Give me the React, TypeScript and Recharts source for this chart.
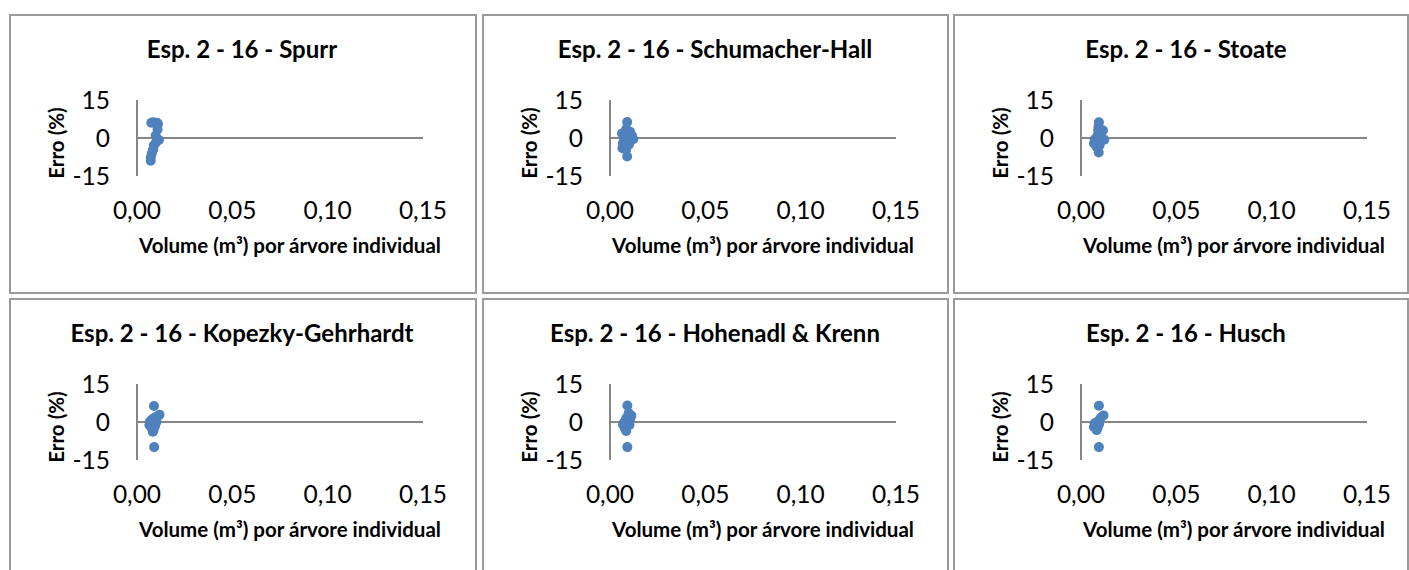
import React from 'react';
import { ScatterChart, Scatter, XAxis, YAxis, ZAxis, ReferenceLine } from 'recharts';

const xTicks = [0, 0.05, 0.1, 0.15];
const yTicks = [-15, 0, 15];

const titles = [
  'Esp. 2 - 16 - Spurr',
  'Esp. 2 - 16 - Schumacher-Hall',
  'Esp. 2 - 16 - Stoate',
  'Esp. 2 - 16 - Kopezky-Gehrhardt',
  'Esp. 2 - 16 - Hohenadl & Krenn',
  'Esp. 2 - 16 - Husch',
];

const spurr = [
  { x: 0.0075, y: 6.0 }, { x: 0.0085, y: 6.2 }, { x: 0.0095, y: 5.8 }, { x: 0.0105, y: 6.0 },
  { x: 0.011, y: 5.5 }, { x: 0.0108, y: 3.4 }, { x: 0.0098, y: 1.0 }, { x: 0.0105, y: -0.5 },
  { x: 0.0115, y: -0.8 }, { x: 0.0098, y: -2.0 }, { x: 0.0088, y: -3.0 }, { x: 0.0085, y: -4.5 },
  { x: 0.0078, y: -6.0 }, { x: 0.0072, y: -7.8 }, { x: 0.0072, y: -9.0 },
];

const schumacherHall = [
  { x: 0.009, y: 6.3 }, { x: 0.0085, y: 3.5 }, { x: 0.0105, y: 2.5 }, { x: 0.0063, y: 1.8 },
  { x: 0.0115, y: 1.0 }, { x: 0.0095, y: 0.5 }, { x: 0.0075, y: 0.0 }, { x: 0.0122, y: -0.5 },
  { x: 0.0088, y: -1.0 }, { x: 0.0068, y: -2.0 }, { x: 0.01, y: -2.5 }, { x: 0.0065, y: -4.0 },
  { x: 0.0085, y: -4.5 }, { x: 0.009, y: -7.3 },
];

const stoate = [
  { x: 0.0094, y: 6.2 }, { x: 0.0092, y: 4.5 }, { x: 0.009, y: 3.2 }, { x: 0.0115, y: 3.0 },
  { x: 0.0088, y: 1.2 }, { x: 0.0105, y: 0.8 }, { x: 0.0072, y: -0.5 }, { x: 0.0122, y: -0.7 },
  { x: 0.0085, y: -1.5 }, { x: 0.0068, y: -2.2 }, { x: 0.0098, y: -2.8 }, { x: 0.0082, y: -3.5 },
  { x: 0.0093, y: -5.7 },
];

const kopezky = [
  { x: 0.0089, y: 6.3 }, { x: 0.0118, y: 2.9 }, { x: 0.0108, y: 2.2 }, { x: 0.0093, y: 1.8 },
  { x: 0.0078, y: 1.0 }, { x: 0.0068, y: 0.2 }, { x: 0.0102, y: 0.0 }, { x: 0.0085, y: -0.5 },
  { x: 0.0065, y: -1.2 }, { x: 0.0095, y: -1.5 }, { x: 0.0075, y: -2.2 }, { x: 0.0088, y: -3.0 },
  { x: 0.0083, y: -3.8 }, { x: 0.009, y: -9.9 },
];

const hohenadl = [
  { x: 0.0091, y: 6.5 }, { x: 0.0098, y: 3.5 }, { x: 0.0112, y: 2.5 }, { x: 0.0085, y: 1.5 },
  { x: 0.0105, y: 1.0 }, { x: 0.0075, y: 0.0 }, { x: 0.0095, y: -0.3 }, { x: 0.0068, y: -1.0 },
  { x: 0.0088, y: -1.8 }, { x: 0.0102, y: -1.2 }, { x: 0.0078, y: -2.5 }, { x: 0.0085, y: -3.5 },
  { x: 0.0091, y: -9.9 },
];

const husch = [
  { x: 0.0094, y: 6.4 }, { x: 0.0118, y: 2.6 }, { x: 0.0105, y: 1.8 }, { x: 0.0098, y: 1.0 },
  { x: 0.0085, y: 0.0 }, { x: 0.0072, y: -0.5 }, { x: 0.0095, y: -0.8 }, { x: 0.0078, y: -1.5 },
  { x: 0.0088, y: -2.2 }, { x: 0.0068, y: -2.0 }, { x: 0.0082, y: -3.2 }, { x: 0.0094, y: -9.9 },
];

const seriesList = [spurr, schumacherHall, stoate, kopezky, hohenadl, husch];

const xLabel = 'Volume (m³) por árvore individual';
const yLabel = 'Erro (%)';

const FONT = 'Lato, "Open Sans", sans-serif';
const AXIS = '#868686';
const DOT = '#4F81BD';

const panelBoxes = [
  { left: 9, top: 14, width: 468, height: 280 },
  { left: 482, top: 14, width: 467, height: 280 },
  { left: 953, top: 14, width: 456, height: 280 },
  { left: 9, top: 298, width: 468, height: 290 },
  { left: 482, top: 298, width: 467, height: 290 },
  { left: 953, top: 298, width: 456, height: 290 },
];

const PLOT_L = 128;
const PLOT_T = 86;
const PLOT_W = 286;
const PLOT_H = 76;
const CHART_W = 470;
const CHART_H = 280;

const fmt = (v: number) => v.toFixed(2).replace('.', ',');

function Panel({ idx }: { idx: number }) {
  const box = panelBoxes[idx];
  const data = seriesList[idx];
  return (
    <div
      style={{
        position: 'absolute',
        left: box.left,
        top: box.top,
        width: box.width,
        height: box.height,
        overflow: 'hidden',
      }}
    >
      <div style={{ position: 'absolute', left: 0, top: 0 }}>
        <ScatterChart
          width={CHART_W}
          height={CHART_H}
          margin={{ top: PLOT_T, right: CHART_W - PLOT_L - PLOT_W, left: 0, bottom: 0 }}
        >
          <XAxis
            type="number"
            dataKey="x"
            domain={[0, 0.15]}
            ticks={xTicks}
            tickFormatter={fmt}
            axisLine={false}
            tickLine={false}
            tickSize={0}
            tickMargin={26}
            height={CHART_H - PLOT_T - PLOT_H}
            tick={{ fill: '#000', fontSize: 24.5, fontFamily: FONT }}
            interval={0}
          />
          <YAxis
            type="number"
            dataKey="y"
            domain={[-15, 15]}
            ticks={yTicks}
            axisLine={{ stroke: AXIS, strokeWidth: 2 }}
            tickLine={false}
            tickSize={0}
            tickMargin={27}
            width={PLOT_L}
            tick={{ fill: '#000', fontSize: 24.5, fontFamily: FONT }}
            interval={0}
          />
          <ZAxis range={[79, 79]} />
          <ReferenceLine y={0} stroke={AXIS} strokeWidth={2} ifOverflow="extendDomain" />
          <Scatter data={data} fill={DOT} isAnimationActive={false} />
        </ScatterChart>
      </div>
      <svg
        width={CHART_W}
        height={CHART_H}
        style={{ position: 'absolute', left: 0, top: 0, pointerEvents: 'none' }}
      >
        <text
          x={233}
          y={44}
          textAnchor="middle"
          fontFamily={FONT}
          fontWeight="bold"
          fontSize={24}
          fill="#000"
        >
          {titles[idx]}
        </text>
        <text
          x={281}
          y={239}
          textAnchor="middle"
          fontFamily={FONT}
          fontWeight="bold"
          fontSize={20.5}
          fill="#000"
        >
          {xLabel}
        </text>
        <text
          x={55}
          y={129}
          textAnchor="middle"
          fontFamily={FONT}
          fontWeight="bold"
          fontSize={20.5}
          fill="#000"
          transform={`rotate(-90 55 129)`}
        >
          {yLabel}
        </text>
      </svg>
      <div
        style={{
          position: 'absolute',
          left: 0,
          top: 0,
          width: box.width,
          height: box.height,
          boxSizing: 'border-box',
          border: '2px solid #9a9a9a',
          pointerEvents: 'none',
        }}
      />
    </div>
  );
}

export default function App() {
  return (
    <div
      style={{
        position: 'absolute',
        left: 0,
        top: 0,
        width: 1409,
        height: 570,
        overflow: 'hidden',
        background: '#fff',
      }}
    >
      {panelBoxes.map((_, i) => (
        <Panel key={i} idx={i} />
      ))}
    </div>
  );
}
